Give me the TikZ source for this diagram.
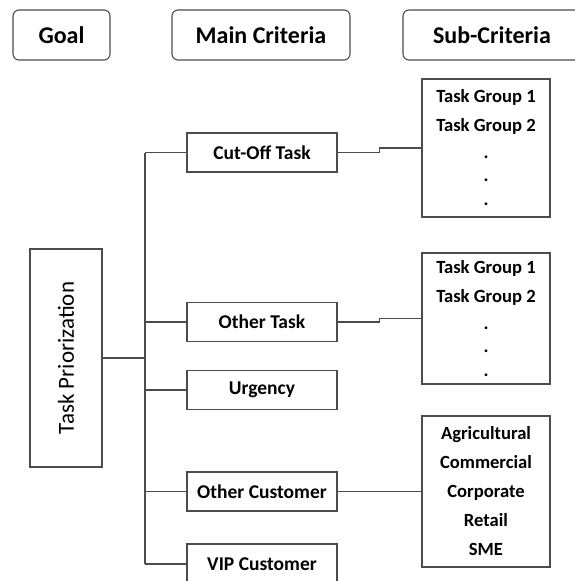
\documentclass[tikz,border=0pt]{standalone}
\usepackage{fontspec}
\setmainfont{Carlito}
\usetikzlibrary{positioning}

\tikzset{
  frame/.style={draw=black!70, line width=1.1pt},
  headbox/.style={frame, rounded corners=6pt, inner sep=0pt,
    minimum height=50pt, font=\bfseries\fontsize{24}{28}\selectfont},
  critbox/.style={frame, inner sep=0pt, minimum width=150pt,
    minimum height=39pt, font=\bfseries\fontsize{19.5}{23}\selectfont},
  subbox/.style={frame, inner sep=0pt, minimum width=128pt, align=center,
    font=\bfseries\fontsize{18.6}{29}\selectfont},
  goalbox/.style={frame, inner sep=0pt, rotate=90, minimum width=218pt,
    minimum height=72pt, font=\fontsize{23}{27}\selectfont}
}

\begin{document}
\begin{tikzpicture}[x=1pt,y=-1pt]

  \useasboundingbox (0,0) rectangle (575,581);

  % column heads
  \node[headbox, minimum width=97pt]  (head1) at (61.5,35) {Goal};
  \node[headbox, minimum width=178pt] (head2) at (261,35)  {Main Criteria};
  \node[headbox, minimum width=178pt] (head3) at (492,35)  {Sub-Criteria};

  % goal
  \node[goalbox] (prio) at (66,358) {Task Priorization};

  % main criteria
  \node[critbox] (cutoff)    at (262,152.5) {Cut-Off Task};
  \node[critbox] (othertask) at (262,322)   {Other Task};
  \node[critbox] (urgency)   at (262,390)   {Urgency};
  \node[critbox] (othercust) at (262,491.5) {Other Customer};
  \node[critbox, minimum height=40pt] (vip) at (262,564) {VIP Customer};

  % sub-criteria
  \node[subbox, minimum height=138pt] (grpa) at (486,148)
    {Task Group 1\\Task Group 2\\[-2pt].\\[-6pt].\\[-5pt].};
  \node[subbox, minimum height=131pt] (grpb) at (486,318.5)
    {Task Group 1\\Task Group 2\\[-2pt].\\[-6pt].\\[-5pt].};
  \node[subbox, minimum height=151pt] (cust) at (486,491.5)
    {Agricultural\\Commercial\\Corporate\\Retail\\SME};

  % tree lines
  \coordinate (trunk) at (145,358);
  \draw[frame] (prio.south) -- (trunk);
  \draw[frame] (trunk |- cutoff.west) -- (trunk |- vip.west);
  \foreach \crit in {cutoff,othertask,urgency,othercust,vip}
    \draw[frame] (trunk |- \crit.west) -- (\crit.west);

  \draw[frame] (cutoff.east) -- ++(42,0) |- (grpa.west);
  \draw[frame] (othertask.east) -- ++(42,0) |- (grpb.west);
  \draw[frame] (othercust.east) -- (cust.west);

\end{tikzpicture}
\end{document}
